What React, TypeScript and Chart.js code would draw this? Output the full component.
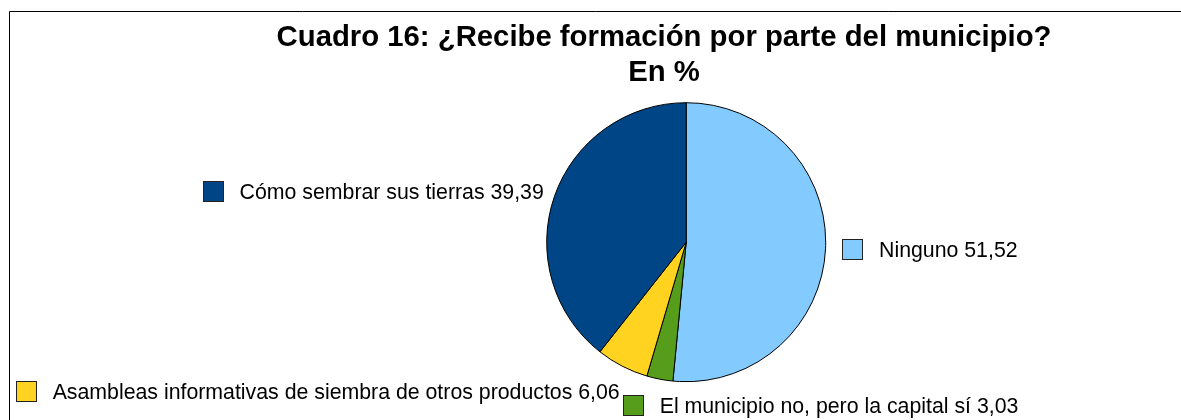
import React, { useEffect, useRef } from "react";
import { Chart, registerables } from "chart.js";

Chart.register(...registerables);

// ---- data ----
const categories = [
  "Ninguno",
  "El municipio no, pero la capital sí",
  "Asambleas informativas de siembra de otros productos",
  "Cómo sembrar sus tierras",
];
const values = [51.52, 3.03, 6.06, 39.39];
const colors = ["#83CAFF", "#579D1C", "#FFD320", "#004586"];
const titleLines = ["Cuadro 16: ¿Recibe formación por parte del municipio?", "En %"];

// ---- style ----
const FONT = '"Liberation Sans", Arial, sans-serif';
const LABEL_SIZE = 21.3;
const TITLE_SIZE = 29.3;

const fmt = (v: number) => v.toFixed(2).replace(".", ",");

const pagePlugin = {
  id: "pagePlugin",
  afterDraw(chart: any) {
    const ctx = chart.ctx as CanvasRenderingContext2D;
    const W = chart.width;
    const H = chart.height;
    ctx.save();
    // frame
    ctx.strokeStyle = "#000";
    ctx.lineWidth = 1;
    ctx.beginPath();
    ctx.moveTo(9.5, H);
    ctx.lineTo(9.5, 11.5);
    ctx.lineTo(W, 11.5);
    ctx.stroke();

    // title
    ctx.fillStyle = "#000";
    ctx.font = `bold ${TITLE_SIZE}px ${FONT}`;
    ctx.textAlign = "center";
    ctx.textBaseline = "alphabetic";
    titleLines.forEach((t, i) => ctx.fillText(t, 664, 46 + i * 35));

    // clip to frame
    ctx.beginPath();
    ctx.rect(10, 12, W - 10, H - 12);
    ctx.clip();

    const meta = chart.getDatasetMeta(0);
    ctx.font = `${LABEL_SIZE}px ${FONT}`;
    ctx.textAlign = "left";
    const SQ = 21;
    const GAP = 16;
    const DIST = 16.5;
    const RIGHT_SHIFT = 5;
    const PAD = 3;
    const lim = Math.sin(Math.PI / 8);
    const placed: { left: number; top: number; w: number; h: number }[] = [];
    const order = meta.data.map((_: any, i: number) => i).reverse();
    order.forEach((i: number) => {
      const arc = meta.data[i];
      const p = arc.getProps(["x", "y", "startAngle", "endAngle", "outerRadius"], true);
      const mid = (p.startAngle + p.endAngle) / 2;
      const c = Math.cos(mid);
      const s = Math.sin(mid);
      const d = p.outerRadius + DIST;
      const ax = p.x + c * d;
      const ay = p.y + s * d;
      const text = `${categories[i]} ${fmt(values[i])}`;
      const tw = ctx.measureText(text).width;
      const bw = SQ + GAP + tw;
      const bh = SQ;
      let left = Math.abs(c) < lim ? ax - bw / 2 : c > 0 ? ax : ax - bw + RIGHT_SHIFT;
      const top = Math.abs(s) < lim ? ay - bh / 2 : s > 0 ? ay : ay - bh;
      for (const b of placed) {
        const overlapX = left < b.left + b.w + PAD && left + bw + PAD > b.left;
        const overlapY = top < b.top + b.h && top + bh > b.top;
        if (overlapX && overlapY) {
          if (left + bw / 2 >= b.left + b.w / 2) left = b.left + b.w + PAD;
          else left = b.left - bw - PAD;
        }
      }
      placed.push({ left, top, w: bw, h: bh });
      const sx = Math.round(left) + 0.5;
      const sy = Math.round(top) + 0.5;
      ctx.fillStyle = colors[i];
      ctx.fillRect(sx, sy, SQ - 1, SQ - 1);
      ctx.strokeStyle = "#222";
      ctx.lineWidth = 1;
      ctx.strokeRect(sx, sy, SQ - 1, SQ - 1);
      ctx.fillStyle = "#000";
      ctx.fillText(text, left + SQ + GAP, top + bh / 2 + (0.716 * LABEL_SIZE) / 2);
    });
    ctx.restore();
  },
};

export default function App() {
  const ref = useRef<HTMLCanvasElement | null>(null);
  useEffect(() => {
    if (!ref.current) return;
    const chart = new Chart(ref.current, {
      type: "pie",
      data: {
        labels: categories,
        datasets: [
          {
            data: values,
            backgroundColor: colors,
            borderColor: "#000",
            borderWidth: 1,
            radius: 139.5,
          } as any,
        ],
      },
      options: {
        responsive: false,
        animation: false,
        devicePixelRatio: 1,
        layout: { padding: { left: 300, right: 108.6, top: 80, bottom: 15.6 } },
        plugins: {
          legend: { display: false },
          tooltip: { enabled: false },
          title: { display: false },
        },
        events: [],
      },
      plugins: [pagePlugin],
    });
    return () => chart.destroy();
  }, []);
  return (
    <div style={{ position: "fixed", left: 0, top: 0, width: 1181, height: 420, background: "#fff" }}>
      <canvas ref={ref} width={1181} height={420} style={{ display: "block" }} />
    </div>
  );
}
